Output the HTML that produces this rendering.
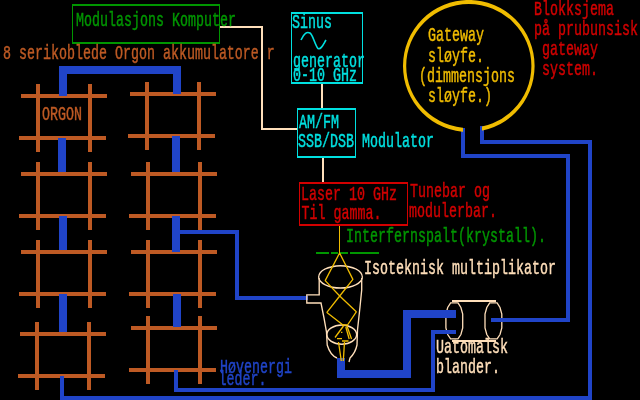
<!DOCTYPE html>
<html><head><meta charset="utf-8"><title>Blokksjema</title>
<style>
html,body{margin:0;padding:0;background:#000;}
body{width:640px;height:400px;overflow:hidden;}
svg{display:block;will-change:transform;}
text{font-family:"Liberation Mono",monospace;font-size:13.333px;white-space:pre;stroke-width:0.3px;}
</style></head><body>
<svg width="640" height="400" viewBox="0 0 640 400">
<rect width="640" height="400" fill="#000"/>
<path d="M450.6,302.8 L458.0,302.8 L460.9,307.5 L462.7,314 L462.7,328 L460.9,334.5 L458.0,338.8 L450.6,338.8 L447.7,334.5 L445.9,328 L445.9,314 L447.7,307.5 Z M489.7,302.8 L497.1,302.8 L500.0,307.5 L501.8,314 L501.8,328 L500.0,334.5 L497.1,338.8 L489.7,338.8 L486.8,334.5 L485.0,328 L485.0,314 L486.8,307.5 Z" stroke="#ffdfba" stroke-width="1.3" fill="none"/>
<rect x="452" y="300" width="44" height="2" fill="#ffdfba"/>
<rect x="452" y="340" width="44" height="2" fill="#ffdfba"/>
<g shape-rendering="crispEdges">
<rect x="21" y="94" width="86" height="4" fill="#be5a24"/>
<rect x="19" y="136" width="87" height="4" fill="#be5a24"/>
<rect x="36" y="84" width="4" height="68" fill="#be5a24"/>
<rect x="88" y="84" width="4" height="68" fill="#be5a24"/>
<rect x="21" y="172" width="86" height="4" fill="#be5a24"/>
<rect x="19" y="214" width="87" height="4" fill="#be5a24"/>
<rect x="36" y="162" width="4" height="68" fill="#be5a24"/>
<rect x="88" y="162" width="4" height="68" fill="#be5a24"/>
<rect x="21" y="250" width="86" height="4" fill="#be5a24"/>
<rect x="19" y="292" width="87" height="4" fill="#be5a24"/>
<rect x="36" y="240" width="4" height="68" fill="#be5a24"/>
<rect x="88" y="240" width="4" height="68" fill="#be5a24"/>
<rect x="20" y="332" width="86" height="4" fill="#be5a24"/>
<rect x="18" y="374" width="87" height="4" fill="#be5a24"/>
<rect x="35" y="322" width="4" height="68" fill="#be5a24"/>
<rect x="87" y="322" width="4" height="68" fill="#be5a24"/>
<rect x="130" y="92" width="86" height="4" fill="#be5a24"/>
<rect x="128" y="134" width="87" height="4" fill="#be5a24"/>
<rect x="145" y="82" width="4" height="68" fill="#be5a24"/>
<rect x="197" y="82" width="4" height="68" fill="#be5a24"/>
<rect x="131" y="172" width="86" height="4" fill="#be5a24"/>
<rect x="129" y="214" width="87" height="4" fill="#be5a24"/>
<rect x="146" y="162" width="4" height="68" fill="#be5a24"/>
<rect x="198" y="162" width="4" height="68" fill="#be5a24"/>
<rect x="131" y="250" width="86" height="4" fill="#be5a24"/>
<rect x="129" y="292" width="87" height="4" fill="#be5a24"/>
<rect x="146" y="240" width="4" height="68" fill="#be5a24"/>
<rect x="198" y="240" width="4" height="68" fill="#be5a24"/>
<rect x="131" y="326" width="86" height="4" fill="#be5a24"/>
<rect x="129" y="368" width="87" height="4" fill="#be5a24"/>
<rect x="146" y="316" width="4" height="68" fill="#be5a24"/>
<rect x="198" y="316" width="4" height="68" fill="#be5a24"/>
<rect x="59" y="66" width="122" height="8" fill="#2044c8"/>
<rect x="59" y="66" width="8" height="30" fill="#2044c8"/>
<rect x="173" y="66" width="8" height="28" fill="#2044c8"/>
<rect x="58" y="138" width="8" height="34" fill="#2044c8"/>
<rect x="59" y="216" width="8" height="34" fill="#2044c8"/>
<rect x="59" y="294" width="8" height="38" fill="#2044c8"/>
<rect x="60" y="376" width="4" height="24" fill="#2044c8"/>
<rect x="60" y="396" width="532" height="4" fill="#2044c8"/>
<rect x="172" y="136" width="8" height="36" fill="#2044c8"/>
<rect x="172" y="216" width="8" height="36" fill="#2044c8"/>
<rect x="173" y="294" width="8" height="33" fill="#2044c8"/>
<rect x="180" y="230" width="59" height="4" fill="#2044c8"/>
<rect x="235" y="230" width="4" height="70" fill="#2044c8"/>
<rect x="235" y="296" width="73" height="4" fill="#2044c8"/>
<rect x="174" y="370" width="4" height="22" fill="#2044c8"/>
<rect x="174" y="388" width="261" height="4" fill="#2044c8"/>
<rect x="431" y="330" width="4" height="62" fill="#2044c8"/>
<rect x="431" y="330" width="25" height="4" fill="#2044c8"/>
<rect x="337" y="358" width="8" height="20" fill="#2044c8"/>
<rect x="337" y="370" width="74" height="8" fill="#2044c8"/>
<rect x="403" y="310" width="8" height="68" fill="#2044c8"/>
<rect x="403" y="310" width="53" height="8" fill="#2044c8"/>
<rect x="461" y="128" width="4" height="30" fill="#2044c8"/>
<rect x="461" y="154" width="109" height="4" fill="#2044c8"/>
<rect x="566" y="154" width="4" height="168" fill="#2044c8"/>
<rect x="491" y="318" width="79" height="4" fill="#2044c8"/>
<rect x="480" y="126" width="4" height="18" fill="#2044c8"/>
<rect x="480" y="140" width="112" height="4" fill="#2044c8"/>
<rect x="588" y="140" width="4" height="260" fill="#2044c8"/>
<rect x="72" y="4" width="148" height="2" fill="#009600"/>
<rect x="72" y="42" width="148" height="2" fill="#009600"/>
<rect x="72" y="4" width="1" height="40" fill="#009600"/>
<rect x="219" y="4" width="1" height="40" fill="#009600"/>
<rect x="291" y="12" width="72" height="2" fill="#00e0e0"/>
<rect x="291" y="82" width="72" height="2" fill="#00e0e0"/>
<rect x="291" y="12" width="1" height="72" fill="#00e0e0"/>
<rect x="362" y="12" width="1" height="72" fill="#00e0e0"/>
<rect x="297" y="108" width="59" height="2" fill="#00e0e0"/>
<rect x="297" y="156" width="59" height="2" fill="#00e0e0"/>
<rect x="297" y="108" width="1" height="50" fill="#00e0e0"/>
<rect x="355" y="108" width="1" height="50" fill="#00e0e0"/>
<rect x="299" y="182" width="109" height="2" fill="#d20000"/>
<rect x="299" y="224" width="109" height="2" fill="#d20000"/>
<rect x="299" y="182" width="1" height="44" fill="#d20000"/>
<rect x="407" y="182" width="1" height="44" fill="#d20000"/>
<rect x="220" y="26" width="43" height="2" fill="#ffdfba"/>
<rect x="261" y="26" width="2" height="104" fill="#ffdfba"/>
<rect x="261" y="128" width="36" height="2" fill="#ffdfba"/>
<rect x="321" y="84" width="2" height="24" fill="#ffdfba"/>
<rect x="322" y="158" width="2" height="24" fill="#ffdfba"/>
<rect x="339" y="226" width="1" height="27" fill="#f0bc00"/>
<rect x="316" y="252" width="13" height="2" fill="#009600"/>
<rect x="331" y="252" width="7" height="2" fill="#009600"/>
<rect x="340" y="252" width="8" height="2" fill="#009600"/>
<rect x="350" y="252" width="29" height="2" fill="#009600"/>
</g>
<path d="M301,40 C304,33 307,31.5 310,33 C313,35 315,45 318,48.5 C321,50 323,45 326,40" stroke="#00e0e0" stroke-width="1.6" fill="none"/>
<mask id="gap"><rect width="640" height="400" fill="#fff"/><rect x="463" y="100" width="19" height="40" fill="#000"/></mask>
<path d="M403.0,66.0 A65.8,66.0 0 1 0 534.6,66.0 A65.8,66.0 0 1 0 403.0,66.0 Z M406.2,66.0 A62.6,62.0 0 1 0 531.4,66.0 A62.6,62.0 0 1 0 406.2,66.0 Z" fill="#f0bc00" fill-rule="evenodd" mask="url(#gap)"/>
<path d="M318.00,276.9 A22.5,11.9 0 1 0 363.00,276.9 A22.5,11.9 0 1 0 318.00,276.9 Z M319.30,276.9 A21.2,10.3 0 1 0 361.70,276.9 A21.2,10.3 0 1 0 319.30,276.9 Z" fill="#ffdfba" fill-rule="evenodd"/>
<path d="M326.25,334.6 A15.5,10.4 0 1 0 357.25,334.6 A15.5,10.4 0 1 0 326.25,334.6 Z M327.55,334.6 A14.2,8.8 0 1 0 355.95,334.6 A14.2,8.8 0 1 0 327.55,334.6 Z" fill="#ffdfba" fill-rule="evenodd"/>
<path d="M319.2,278 L319.2,294.8 L306.8,294.8 L306.8,303 L321,303 L324,318 L326.5,332 L327.2,345 C329,351 332,356 337,358" stroke="#ffdfba" stroke-width="1.35" fill="none"/>
<path d="M361.7,278 L361.7,290 L360,307 L357.5,330 L357,345 C356,350 353,355 350,358 L349,362" stroke="#ffdfba" stroke-width="1.35" fill="none"/>
<path d="M339.6,253 L325.2,280.6 L339.7,296 L326.9,312.4 L343,325 L347.5,325 L356.3,311.8 L339.7,296 L352.9,279.4 L339.6,253" stroke="#f0bc00" stroke-width="1.3" fill="none" stroke-linejoin="bevel"/>
<path d="M343.5,326 L335,337.5 M347,326 L351.5,339 M345.8,327 L349.2,339 M337,338.7 L342,338.7 M342,341 L348.5,341 M338.5,342 L341.3,361 M344.5,342 L343.3,361 M341,332.3 L342.4,332.3" stroke="#f0bc00" stroke-width="1.3" fill="none"/>
<text transform="translate(76,25.5) scale(1,1.5)" fill="#009600" stroke="#009600">Modulasjons Komputer</text>
<text transform="translate(3,59.4) scale(1,1.5)" fill="#be5a24" stroke="#be5a24">8 serikoblede Orgon akkumulatore r</text>
<text transform="translate(42,119.7) scale(1,1.5)" fill="#be5a24" stroke="#be5a24">ORGON</text>
<text transform="translate(292,27.7) scale(1,1.5)" fill="#00e0e0" stroke="#00e0e0">Sinus</text>
<text transform="translate(293,66.7) scale(1,1.5)" fill="#00e0e0" stroke="#00e0e0">generator</text>
<text transform="translate(293,81) scale(1,1.5)" fill="#00e0e0" stroke="#00e0e0">0-10 GHz</text>
<text transform="translate(299,127.5) scale(1,1.5)" fill="#00e0e0" stroke="#00e0e0">AM/FM</text>
<text transform="translate(298,147.3) scale(1,1.5)" fill="#00e0e0" stroke="#00e0e0">SSB/DSB</text>
<text transform="translate(362,147.2) scale(1,1.5)" fill="#00e0e0" stroke="#00e0e0">Modulator</text>
<text transform="translate(301,199.5) scale(1,1.5)" fill="#d20000" stroke="#d20000">Laser 10 GHz</text>
<text transform="translate(301.5,219.4) scale(1,1.5)" fill="#d20000" stroke="#d20000">Til gamma.</text>
<text transform="translate(410,197) scale(1,1.5)" fill="#d20000" stroke="#d20000">Tunebar og</text>
<text transform="translate(409,217.2) scale(1,1.5)" fill="#d20000" stroke="#d20000">modulerbar.</text>
<text transform="translate(346,241.6) scale(1,1.5)" fill="#009600" stroke="#009600">Interfernspalt(krystall).</text>
<text transform="translate(364,273.5) scale(1,1.5)" fill="#ffdfba" stroke="#ffdfba">Isoteknisk multiplikator</text>
<text transform="translate(436,353.3) scale(1,1.5)" fill="#ffdfba" stroke="#ffdfba">Uatomalsk</text>
<text transform="translate(436,373.4) scale(1,1.5)" fill="#ffdfba" stroke="#ffdfba">blander.</text>
<text transform="translate(220,373.2) scale(1,1.5)" fill="#2044c8" stroke="#2044c8">Høvenergi</text>
<text transform="translate(218.5,385.4) scale(1,1.5)" fill="#2044c8" stroke="#2044c8">leder.</text>
<text transform="translate(428,41.4) scale(1,1.5)" fill="#f0bc00" stroke="#f0bc00">Gateway</text>
<text transform="translate(428,61.7) scale(1,1.5)" fill="#f0bc00" stroke="#f0bc00">sløyfe.</text>
<text transform="translate(419,81.7) scale(1,1.5)" fill="#f0bc00" stroke="#f0bc00">(dimmensjons</text>
<text transform="translate(428,101.7) scale(1,1.5)" fill="#f0bc00" stroke="#f0bc00">sløyfe.)</text>
<text transform="translate(534,15.3) scale(1,1.5)" fill="#d20000" stroke="#d20000">Blokksjema</text>
<text transform="translate(534,35) scale(1,1.5)" fill="#d20000" stroke="#d20000">på prubunsisk</text>
<text transform="translate(534,55.2) scale(1,1.5)" fill="#d20000" stroke="#d20000"> gateway</text>
<text transform="translate(534,75) scale(1,1.5)" fill="#d20000" stroke="#d20000"> system.</text>
</svg>
</body></html>
